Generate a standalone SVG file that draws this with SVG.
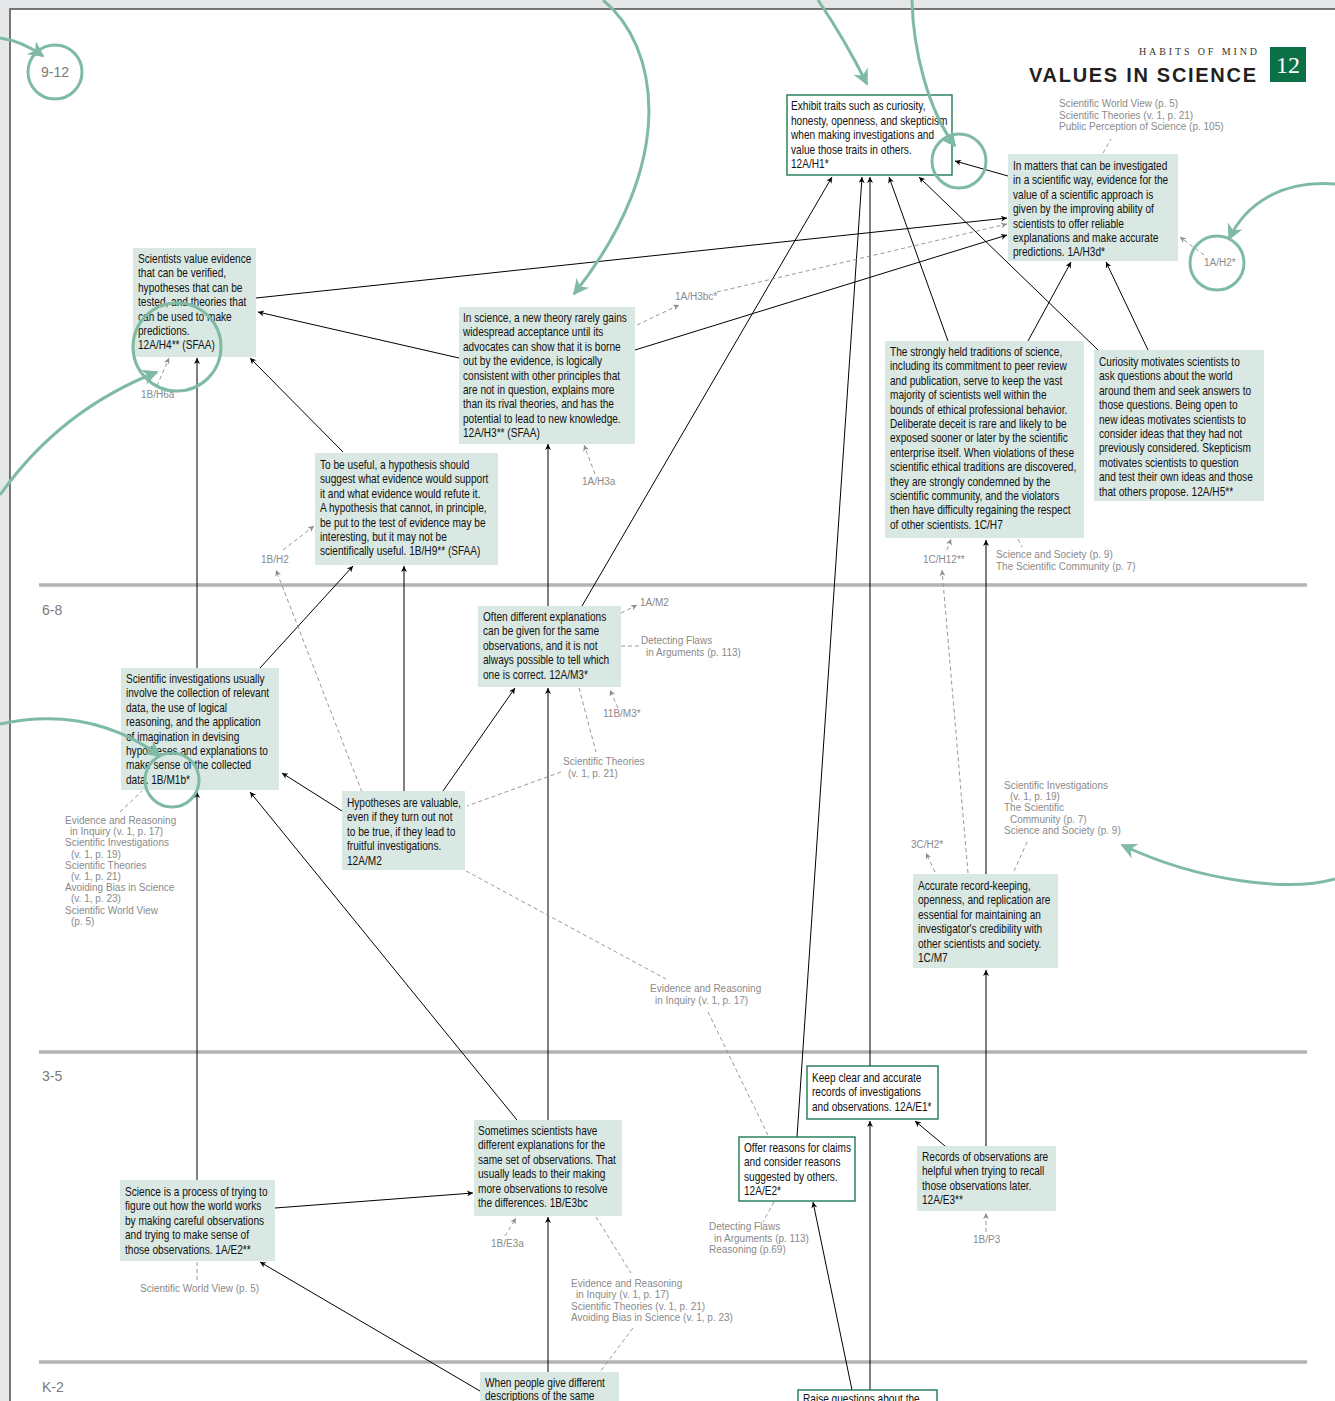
<svg xmlns="http://www.w3.org/2000/svg" width="1335" height="1401" viewBox="0 0 1335 1401">
<style>
.t{font-family:"Liberation Sans","Arimo",sans-serif;font-size:12.4px;fill:#111}
.r{font-family:"Liberation Sans","Noto Sans",sans-serif;font-size:10px;fill:#8a8a8a}
.g{font-family:"Liberation Sans","Noto Sans",sans-serif;font-size:14px;fill:#7a7a7a}
.nb{fill:#d9e8e2}
.wb{fill:#fff;stroke:#1f7a52;stroke-width:1.4}
.c{stroke:#000;stroke-width:1;fill:none;marker-end:url(#ah)}
.d{stroke:#8c8c8c;stroke-width:0.9;fill:none;stroke-dasharray:4 3}
.da{stroke:#8c8c8c;stroke-width:0.9;fill:none;stroke-dasharray:4 3;marker-end:url(#gh)}
.tl{stroke:#7fbba4;stroke-width:3;fill:none}
.ta{stroke:#7fbba4;stroke-width:3;fill:none;marker-end:url(#th)}
.sep{stroke:#b3b3b3;stroke-width:3.5}
</style>
<defs>
<marker id="ah" viewBox="0 0 10 10" refX="10" refY="5" markerWidth="9" markerHeight="6" orient="auto" markerUnits="userSpaceOnUse"><path d="M0,0 L10,5 L0,10 L3,5 z" fill="#000"/></marker>
<marker id="gh" viewBox="0 0 10 10" refX="10" refY="5" markerWidth="9" markerHeight="6" orient="auto" markerUnits="userSpaceOnUse"><path d="M0,0 L10,5 L0,10 L3,5 z" fill="#8c8c8c"/></marker>
<marker id="th" viewBox="0 0 10 10" refX="9" refY="5" markerWidth="20" markerHeight="16" orient="auto" markerUnits="userSpaceOnUse"><path d="M0,0 L10,5 L0,10 L3,5 z" fill="#7fbba4"/></marker>
</defs>

<rect x="0" y="0" width="1335" height="1401" fill="#e6e7e8"/>
<rect x="10" y="9" width="1335" height="1400" fill="#fff" stroke="#4d4d4d" stroke-width="1.5"/>

<g id="bands">
<line class="sep" x1="39" y1="585" x2="1307" y2="585"/>
<line class="sep" x1="39" y1="1052" x2="1307" y2="1052"/>
<line class="sep" x1="39" y1="1362" x2="1307" y2="1362"/>
<text class="g" x="55" y="77" text-anchor="middle">9-12</text>
<text class="g" x="42" y="615">6-8</text>
<text class="g" x="42" y="1081">3-5</text>
<text class="g" x="42" y="1392">K-2</text>
</g>

<g id="title">
<text x="1139" y="55" textLength="118" lengthAdjust="spacing" style="font-family:'Liberation Serif',serif;font-size:10px;fill:#333">HABITS OF MIND</text>
<text x="1029" y="82" textLength="227" lengthAdjust="spacing" style="font-family:'Liberation Sans',sans-serif;font-size:20px;font-weight:bold;fill:#231f20">VALUES IN SCIENCE</text>
<rect x="1270" y="47" width="36" height="35" fill="#0b7046"/>
<text x="1288" y="73" text-anchor="middle" style="font-family:'Liberation Serif',serif;font-size:24px;fill:#fff">12</text>
</g>

<g id="connectors">
<path class="c" d="M1008,176 L955,161"/>
<path class="c" d="M256,298 L1007,218"/>
<path class="c" d="M635,350 L1007,235"/>
<path class="c" d="M459,358 L258,312"/>
<path class="c" d="M343,452 L250,358"/>
<path class="c" d="M197,668 L197,358"/>
<path class="c" d="M548,606 L548,444"/>
<path class="c" d="M582,606 L832,177"/>
<path class="c" d="M797,1137 L862,177"/>
<path class="c" d="M870,1066 L870,177"/>
<path class="c" d="M948,341 L889,177"/>
<path class="c" d="M1098,350 L919,177"/>
<path class="c" d="M1028,341 L1071,262"/>
<path class="c" d="M1148,350 L1106,262"/>
<path class="c" d="M260,668 L353,566"/>
<path class="c" d="M404,791 L404,566"/>
<path class="c" d="M443,791 L515,688"/>
<path class="c" d="M342,811 L282,773"/>
<path class="c" d="M517,1120 L250,792"/>
<path class="c" d="M548,1120 L548,688"/>
<path class="c" d="M197,1180 L197,792"/>
<path class="c" d="M275,1208 L473,1193"/>
<path class="c" d="M480,1391 L260,1262"/>
<path class="c" d="M548,1372 L548,1217"/>
<path class="c" d="M852,1390 L813,1202"/>
<path class="c" d="M870,1390 L870,1121"/>
<path class="c" d="M945,1146 L915,1121"/>
<path class="c" d="M986,1146 L986,970"/>
<path class="c" d="M986,874 L986,540"/>

<path class="d" d="M1103,153 L1111,139"/>
<path class="da" d="M1204,255 L1180,237"/>
<path class="da" d="M637,325 L679,305"/>
<path class="da" d="M717,292 L1007,224"/>
<path class="da" d="M157,386 L169,358"/>
<path class="da" d="M595,474 L584,445"/>
<path class="da" d="M283,550 L314,526"/>
<path class="da" d="M362,792 L276,570"/>
<path class="da" d="M947,550 L951,539"/>
<path class="da" d="M968,873 L942,570"/>
<path class="d" d="M1018,539 L1022,547"/>
<path class="da" d="M621,613 L637,605"/>
<path class="d" d="M621,646 L639,646"/>
<path class="da" d="M618,708 L610,690"/>
<path class="d" d="M579,688 L596,752"/>
<path class="d" d="M561,772 L467,806"/>
<path class="d" d="M120,812 L142,791"/>
<path class="d" d="M466,871 L666,979"/>
<path class="d" d="M708,1012 L768,1135"/>
<path class="da" d="M935,872 L926,853"/>
<path class="d" d="M1014,871 L1028,840"/>
<path class="d" d="M197,1262 L197,1280"/>
<path class="da" d="M505,1236 L516,1218"/>
<path class="d" d="M596,1217 L631,1273"/>
<path class="d" d="M633,1328 L600,1372"/>
<path class="d" d="M774,1202 L763,1222"/>
<path class="da" d="M986,1232 L986,1213"/>
</g>

<g id="refs">
<text class="r"><tspan x="1059" y="107">Scientific World View (p. 5)</tspan><tspan x="1059" y="118.5">Scientific Theories (v. 1, p. 21)</tspan><tspan x="1059" y="130">Public Perception of Science (p. 105)</tspan></text>
<text class="r" x="1204" y="266">1A/H2*</text>
<text class="r" x="675" y="300">1A/H3bc*</text>
<text class="r" x="141" y="398">1B/H6a</text>
<text class="r" x="582" y="485">1A/H3a</text>
<text class="r" x="261" y="563">1B/H2</text>
<text class="r" x="923" y="563">1C/H12**</text>
<text class="r"><tspan x="996" y="558">Science and Society (p. 9)</tspan><tspan x="996" y="569.5">The Scientific Community (p. 7)</tspan></text>
<text class="r" x="640" y="606">1A/M2</text>
<text class="r"><tspan x="641" y="644">Detecting Flaws</tspan><tspan x="646" y="655.5">in Arguments (p. 113)</tspan></text>
<text class="r" x="603" y="717">11B/M3*</text>
<text class="r"><tspan x="563" y="765">Scientific Theories</tspan><tspan x="568" y="776.5">(v. 1, p. 21)</tspan></text>
<text class="r"><tspan x="65" y="824">Evidence and Reasoning</tspan><tspan x="70" y="835.2">in Inquiry (v. 1, p. 17)</tspan><tspan x="65" y="846.4">Scientific Investigations</tspan><tspan x="71" y="857.6">(v. 1, p. 19)</tspan><tspan x="65" y="868.8">Scientific Theories</tspan><tspan x="71" y="880">(v. 1, p. 21)</tspan><tspan x="65" y="891.2">Avoiding Bias in Science</tspan><tspan x="71" y="902.4">(v. 1, p. 23)</tspan><tspan x="65" y="913.6">Scientific World View</tspan><tspan x="71" y="924.8">(p. 5)</tspan></text>
<text class="r"><tspan x="1004" y="789">Scientific Investigations</tspan><tspan x="1010" y="800.2">(v. 1, p. 19)</tspan><tspan x="1004" y="811.4">The Scientific</tspan><tspan x="1010" y="822.6">Community (p. 7)</tspan><tspan x="1004" y="833.8">Science and Society (p. 9)</tspan></text>
<text class="r" x="911" y="848">3C/H2*</text>
<text class="r"><tspan x="650" y="992">Evidence and Reasoning</tspan><tspan x="655" y="1003.5">in Inquiry (v. 1, p. 17)</tspan></text>
<text class="r" x="140" y="1292">Scientific World View (p. 5)</text>
<text class="r" x="491" y="1247">1B/E3a</text>
<text class="r"><tspan x="571" y="1287">Evidence and Reasoning</tspan><tspan x="576" y="1298.3">in Inquiry (v. 1, p. 17)</tspan><tspan x="571" y="1309.6">Scientific Theories (v. 1, p. 21)</tspan><tspan x="571" y="1320.9">Avoiding Bias in Science (v. 1, p. 23)</tspan></text>
<text class="r"><tspan x="709" y="1230">Detecting Flaws</tspan><tspan x="714" y="1241.5">in Arguments (p. 113)</tspan><tspan x="709" y="1253">Reasoning (p.69)</tspan></text>
<text class="r" x="973" y="1243">1B/P3</text>
</g>

<g id="n-12A-H1"><rect class="wb" x="787" y="95" width="165" height="80"/>
<text class="t" transform="matrix(0.815,0,0,1,791,0)"><tspan x="0" y="110.5">Exhibit traits such as curiosity,</tspan><tspan x="0" y="124.9">honesty, openness, and skepticism</tspan><tspan x="0" y="139.3">when making investigations and</tspan><tspan x="0" y="153.7">value those traits in others.</tspan><tspan x="0" y="168.1">12A/H1*</tspan></text></g>

<g id="n-1A-H3d"><rect class="nb" x="1008" y="154" width="170" height="107"/>
<text class="t" transform="matrix(0.815,0,0,1,1013,0)"><tspan x="0" y="170">In matters that can be investigated</tspan><tspan x="0" y="184.4">in a scientific way, evidence for the</tspan><tspan x="0" y="198.8">value of a scientific approach is</tspan><tspan x="0" y="213.2">given by the improving ability of</tspan><tspan x="0" y="227.6">scientists to offer reliable</tspan><tspan x="0" y="242">explanations and make accurate</tspan><tspan x="0" y="256.4">predictions.  1A/H3d*</tspan></text></g>

<g id="n-12A-H4"><rect class="nb" x="133" y="248" width="123" height="109"/>
<text class="t" transform="matrix(0.815,0,0,1,138,0)"><tspan x="0" y="263">Scientists value evidence</tspan><tspan x="0" y="277.4">that can be verified,</tspan><tspan x="0" y="291.8">hypotheses that can be</tspan><tspan x="0" y="306.2">tested, and theories that</tspan><tspan x="0" y="320.6">can be used to make</tspan><tspan x="0" y="335">predictions.</tspan><tspan x="0" y="349.4">12A/H4** (SFAA)</tspan></text></g>

<g id="n-12A-H3"><rect class="nb" x="459" y="307" width="176" height="137"/>
<text class="t" transform="matrix(0.815,0,0,1,463,0)"><tspan x="0" y="322">In science, a new theory rarely gains</tspan><tspan x="0" y="336.4">widespread acceptance until its</tspan><tspan x="0" y="350.8">advocates can show that it is borne</tspan><tspan x="0" y="365.2">out by the evidence, is logically</tspan><tspan x="0" y="379.6">consistent with other principles that</tspan><tspan x="0" y="394">are not in question, explains more</tspan><tspan x="0" y="408.4">than its rival theories, and has the</tspan><tspan x="0" y="422.8">potential to lead to new knowledge.</tspan><tspan x="0" y="437.2">12A/H3** (SFAA)</tspan></text></g>

<g id="n-1B-H9"><rect class="nb" x="315" y="453" width="183" height="112"/>
<text class="t" transform="matrix(0.815,0,0,1,320,0)"><tspan x="0" y="469">To be useful, a hypothesis should</tspan><tspan x="0" y="483.4">suggest what evidence would support</tspan><tspan x="0" y="497.8">it and what evidence would refute it.</tspan><tspan x="0" y="512.2">A hypothesis that cannot, in principle,</tspan><tspan x="0" y="526.6">be put to the test of evidence may be</tspan><tspan x="0" y="541">interesting, but it may not be</tspan><tspan x="0" y="555.4">scientifically useful. 1B/H9** (SFAA)</tspan></text></g>

<g id="n-1C-H7"><rect class="nb" x="885" y="341" width="199" height="197"/>
<text class="t" transform="matrix(0.815,0,0,1,890,0)"><tspan x="0" y="356">The strongly held traditions of science,</tspan><tspan x="0" y="370.4">including its commitment to peer review</tspan><tspan x="0" y="384.8">and publication, serve to keep the vast</tspan><tspan x="0" y="399.2">majority of scientists well within the</tspan><tspan x="0" y="413.6">bounds of ethical professional behavior.</tspan><tspan x="0" y="428">Deliberate deceit is rare and likely to be</tspan><tspan x="0" y="442.4">exposed sooner or later by the scientific</tspan><tspan x="0" y="456.8">enterprise itself. When violations of these</tspan><tspan x="0" y="471.2">scientific ethical traditions are discovered,</tspan><tspan x="0" y="485.6">they are strongly condemned by the</tspan><tspan x="0" y="500">scientific community, and the violators</tspan><tspan x="0" y="514.4">then have difficulty regaining the respect</tspan><tspan x="0" y="528.8">of other scientists. 1C/H7</tspan></text></g>

<g id="n-12A-H5"><rect class="nb" x="1094" y="350" width="170" height="151"/>
<text class="t" transform="matrix(0.815,0,0,1,1099,0)"><tspan x="0" y="366">Curiosity motivates scientists to</tspan><tspan x="0" y="380.4">ask questions about the world</tspan><tspan x="0" y="394.8">around them and seek answers to</tspan><tspan x="0" y="409.2">those questions.  Being open to</tspan><tspan x="0" y="423.6">new ideas motivates scientists to</tspan><tspan x="0" y="438">consider ideas that they had not</tspan><tspan x="0" y="452.4">previously considered. Skepticism</tspan><tspan x="0" y="466.8">motivates scientists to question</tspan><tspan x="0" y="481.2">and test their own ideas and those</tspan><tspan x="0" y="495.6">that others propose. 12A/H5**</tspan></text></g>

<g id="n-12A-M3"><rect class="nb" x="478" y="606" width="143" height="81"/>
<text class="t" transform="matrix(0.815,0,0,1,483,0)"><tspan x="0" y="621">Often different explanations</tspan><tspan x="0" y="635.4">can be given for the same</tspan><tspan x="0" y="649.8">observations, and it is not</tspan><tspan x="0" y="664.2">always possible to tell which</tspan><tspan x="0" y="678.6">one is correct. 12A/M3*</tspan></text></g>

<g id="n-1B-M1b"><rect class="nb" x="121" y="668" width="158" height="122"/>
<text class="t" transform="matrix(0.815,0,0,1,126,0)"><tspan x="0" y="683">Scientific investigations usually</tspan><tspan x="0" y="697.4">involve the collection of relevant</tspan><tspan x="0" y="711.8">data, the use of logical</tspan><tspan x="0" y="726.2">reasoning, and the application</tspan><tspan x="0" y="740.6">of imagination in devising</tspan><tspan x="0" y="755">hypotheses and explanations to</tspan><tspan x="0" y="769.4">make sense of the collected</tspan><tspan x="0" y="783.8">data. 1B/M1b*</tspan></text></g>

<g id="n-12A-M2"><rect class="nb" x="342" y="791" width="123" height="79"/>
<text class="t" transform="matrix(0.815,0,0,1,347,0)"><tspan x="0" y="807">Hypotheses are valuable,</tspan><tspan x="0" y="821.4">even if they turn out not</tspan><tspan x="0" y="835.8">to be true, if they lead to</tspan><tspan x="0" y="850.2">fruitful investigations.</tspan><tspan x="0" y="864.6">12A/M2</tspan></text></g>

<g id="n-1C-M7"><rect class="nb" x="913" y="874" width="145" height="94"/>
<text class="t" transform="matrix(0.815,0,0,1,918,0)"><tspan x="0" y="890">Accurate record-keeping,</tspan><tspan x="0" y="904.4">openness, and replication are</tspan><tspan x="0" y="918.8">essential for maintaining an</tspan><tspan x="0" y="933.2">investigator's credibility with</tspan><tspan x="0" y="947.6">other scientists and society.</tspan><tspan x="0" y="962">1C/M7</tspan></text></g>

<g id="n-12A-E1"><rect class="wb" x="807" y="1066" width="131" height="53"/>
<text class="t" transform="matrix(0.815,0,0,1,812,0)"><tspan x="0" y="1082">Keep clear and accurate</tspan><tspan x="0" y="1096.4">records of investigations</tspan><tspan x="0" y="1110.8">and observations. 12A/E1*</tspan></text></g>

<g id="n-12A-E2"><rect class="wb" x="739" y="1137" width="116" height="64"/>
<text class="t" transform="matrix(0.815,0,0,1,744,0)"><tspan x="0" y="1152">Offer reasons for claims</tspan><tspan x="0" y="1166.4">and consider reasons</tspan><tspan x="0" y="1180.8">suggested by others.</tspan><tspan x="0" y="1195.2">12A/E2*</tspan></text></g>

<g id="n-1B-E3bc"><rect class="nb" x="474" y="1120" width="148" height="96"/>
<text class="t" transform="matrix(0.815,0,0,1,478,0)"><tspan x="0" y="1135">Sometimes scientists have</tspan><tspan x="0" y="1149.4">different explanations for the</tspan><tspan x="0" y="1163.8">same set of observations. That</tspan><tspan x="0" y="1178.2">usually leads to their making</tspan><tspan x="0" y="1192.6">more observations to resolve</tspan><tspan x="0" y="1207">the differences. 1B/E3bc</tspan></text></g>

<g id="n-12A-E3"><rect class="nb" x="917" y="1146" width="139" height="65"/>
<text class="t" transform="matrix(0.815,0,0,1,922,0)"><tspan x="0" y="1161">Records of observations are</tspan><tspan x="0" y="1175.4">helpful when trying to recall</tspan><tspan x="0" y="1189.8">those observations later.</tspan><tspan x="0" y="1204.2">12A/E3**</tspan></text></g>

<g id="n-1A-E2"><rect class="nb" x="120" y="1180" width="155" height="81"/>
<text class="t" transform="matrix(0.815,0,0,1,125,0)"><tspan x="0" y="1196">Science is a process of trying to</tspan><tspan x="0" y="1210.4">figure out how the world works</tspan><tspan x="0" y="1224.8">by making careful observations</tspan><tspan x="0" y="1239.2">and trying to make sense of</tspan><tspan x="0" y="1253.6">those observations. 1A/E2**</tspan></text></g>

<g id="n-k2-descriptions"><rect class="nb" x="480" y="1372" width="139" height="40"/>
<text class="t" transform="matrix(0.815,0,0,1,485,0)"><tspan x="0" y="1387">When people give different</tspan><tspan x="0" y="1400.5">descriptions of the same</tspan></text></g>

<g id="n-k2-questions"><rect class="wb" x="798" y="1390" width="139" height="30"/>
<text class="t" transform="matrix(0.815,0,0,1,803,0)" x="0" y="1403">Raise questions about the</text></g>

<g id="teal">
<circle class="tl" cx="55" cy="72" r="27"/>
<circle class="tl" cx="177" cy="347" r="44"/>
<circle class="tl" cx="959" cy="161" r="27"/>
<circle class="tl" cx="1217" cy="263" r="27"/>
<circle class="tl" cx="172" cy="780" r="27"/>
<path class="ta" d="M0,38 Q22,41 43,56"/>
<path class="ta" d="M603,0 C658,45 680,160 574,294"/>
<path class="ta" d="M818,0 Q845,40 867,84"/>
<path class="ta" d="M912,0 C913,50 928,110 955,146"/>
<path class="ta" d="M1335,184 C1280,180 1245,205 1229,239"/>
<path class="ta" d="M0,495 Q60,410 157,372"/>
<path class="ta" d="M0,724 Q90,705 160,756"/>
<path class="ta" d="M1335,879 C1290,892 1200,882 1122,845"/>
</g>
</svg>
